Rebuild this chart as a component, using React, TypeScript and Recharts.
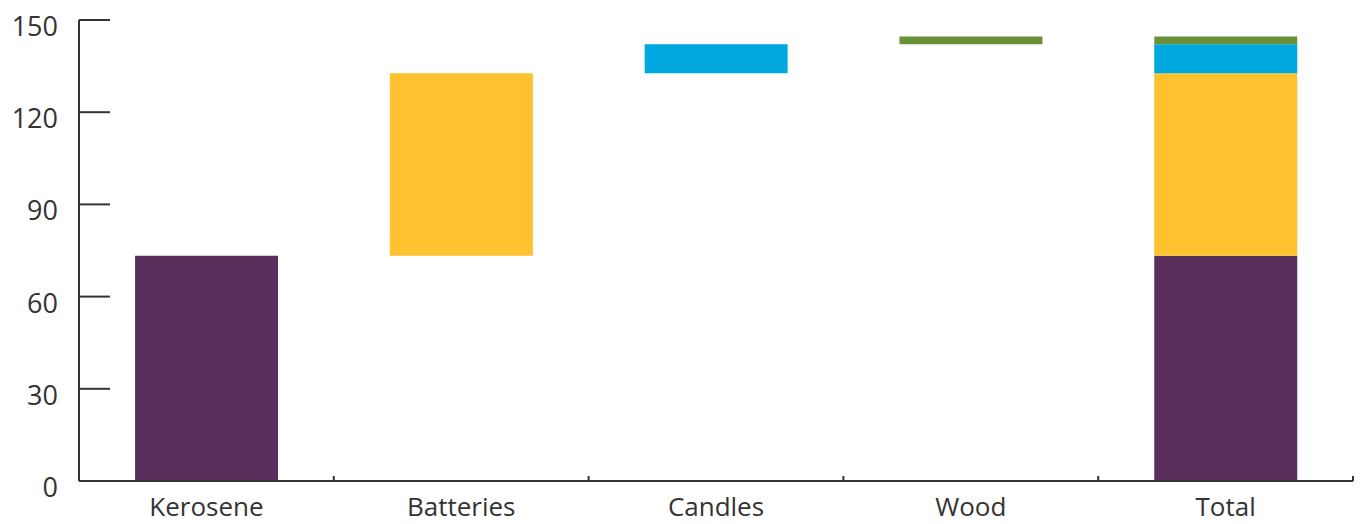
import { Bar, BarChart, XAxis, YAxis } from "recharts";

const categories = ["Kerosene", "Batteries", "Candles", "Wood", "Total"];
const sources = ["kerosene", "batteries", "candles", "wood"];
const sourceValues = [73.3, 59.4, 9.4, 2.5];
const sourceColors = ["#5b2f5b", "#fdc22e", "#00a8e0", "#6a913a"];
const yTicks = [0, 30, 60, 90, 120, 150];

// waterfall: each step sits on an invisible base, the last column stacks everything
const rows = categories.map((name, i) => {
  const row: Record<string, number | string> = { name };
  if (i < sources.length) {
    row.base = sourceValues.slice(0, i).reduce((a, b) => a + b, 0);
    row[sources[i]] = sourceValues[i];
  } else {
    sources.forEach((s, j) => (row[s] = sourceValues[j]));
  }
  return row;
});

const axisColor = "#333333";
const font = "'Open Sans', sans-serif";

function YTick({ x, y, payload }: any) {
  return (
    <g>
      <line x1={x} x2={x + 31} y1={y} y2={y} stroke={axisColor} strokeWidth={2} />
      <text x={x - 21} y={y + 16} textAnchor="end" fill={axisColor} fontSize={27} fontFamily={font}>
        {payload.value}
      </text>
    </g>
  );
}

function XTick({ x, y, payload }: any) {
  const half = payload.offset || 127.5;
  return (
    <g>
      <line x1={x + half} x2={x + half} y1={y} y2={y - 5} stroke={axisColor} strokeWidth={2} />
      <text x={x} y={y + 35} textAnchor="middle" fill={axisColor} fontSize={26} fontFamily={font}>
        {payload.value}
      </text>
    </g>
  );
}

export default function App() {
  return (
    <div style={{ position: "absolute", left: 0, top: 0, background: "#fff" }}>
      <BarChart
        width={1363}
        height={524}
        data={rows}
        margin={{ top: 20, right: 10, left: 0, bottom: 0 }}
        barCategoryGap="22%"
      >
        <XAxis
          dataKey="name"
          height={43}
          tickSize={0}
          tickMargin={0}
          tickLine={false}
          axisLine={{ stroke: axisColor, strokeWidth: 2 }}
          tick={<XTick />}
          interval={0}
        />
        <YAxis
          width={79}
          domain={[0, 150]}
          ticks={yTicks}
          tickSize={0}
          tickMargin={0}
          tickLine={false}
          axisLine={{ stroke: axisColor, strokeWidth: 2 }}
          tick={<YTick />}
          interval={0}
        />
        <Bar dataKey="base" stackId="a" fill="transparent" isAnimationActive={false} />
        {sources.map((s, i) => (
          <Bar key={s} dataKey={s} stackId="a" fill={sourceColors[i]} isAnimationActive={false} />
        ))}
      </BarChart>
    </div>
  );
}
